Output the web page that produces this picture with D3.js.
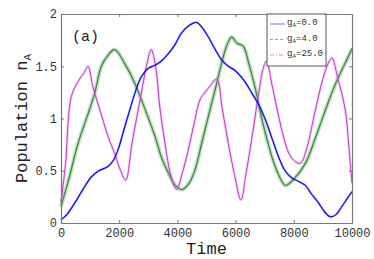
<!DOCTYPE html>
<html>
<head>
<meta charset="utf-8">
<script src="https://cdn.jsdelivr.net/npm/d3@7"></script>
<style>
  body { margin: 0; background: #fff; }
  svg text { font-family: "Liberation Mono", "DejaVu Sans Mono", monospace; }
</style>
</head>
<body>
<svg id="svg" width="374" height="259"></svg>
<script>
// g_A = 0.0
var serieBleue = [[0,0.03],[200,0.08],[470,0.19],[750,0.32],[1042,0.44],[1300,0.50],[1615,0.54],[1800,0.60],[1959,0.70],[2150,0.88],[2360,1.08],[2560,1.26],[2760,1.40],[3000,1.48],[3230,1.51],[3450,1.55],[3688,1.62],[3900,1.70],[4146,1.82],[4400,1.89],[4662,1.92],[4850,1.87],[5063,1.78],[5300,1.66],[5521,1.56],[5750,1.50],[5979,1.46],[6300,1.36],[6564,1.24],[6800,1.13],[7021,0.99],[7250,0.81],[7481,0.63],[7700,0.50],[7938,0.43],[8150,0.40],[8397,0.36],[8600,0.28],[8855,0.19],[9050,0.11],[9255,0.06],[9450,0.08],[9656,0.16],[9850,0.24],[10000,0.30]];
// g_A = 4.0
var serieVerte = [[0,0.16],[250,0.40],[584,0.76],[900,1.02],[1157,1.24],[1386,1.50],[1600,1.60],[1844,1.66],[2200,1.52],[2530,1.34],[2900,1.08],[3230,0.83],[3450,0.63],[3688,0.48],[3900,0.37],[4146,0.32],[4400,0.38],[4605,0.51],[4850,0.78],[5063,1.02],[5300,1.28],[5521,1.53],[5700,1.70],[5865,1.78],[6050,1.72],[6266,1.69],[6450,1.53],[6667,1.30],[6907,0.99],[7100,0.78],[7251,0.63],[7480,0.46],[7709,0.36],[8000,0.42],[8397,0.57],[8750,0.82],[9085,1.08],[9300,1.24],[9542,1.40],[9800,1.55],[10000,1.67]];
// g_A = 25.0
var serieMagenta = [[0,0.20],[150,0.55],[355,1.21],[600,1.36],[800,1.44],[928,1.50],[1100,1.30],[1350,1.07],[1615,0.83],[1850,0.66],[2050,0.50],[2222,0.41],[2450,0.78],[2760,1.24],[2950,1.52],[3100,1.66],[3250,1.50],[3400,1.10],[3574,0.76],[3780,0.45],[3975,0.32],[4150,0.46],[4375,0.70],[4550,0.92],[4777,1.18],[4950,1.25],[5150,1.32],[5350,1.38],[5550,1.08],[5750,0.76],[5950,0.48],[6186,0.22],[6350,0.46],[6553,0.80],[6793,1.24],[6950,1.48],[7060,1.55],[7250,1.32],[7481,1.02],[7650,0.82],[7825,0.67],[8000,0.60],[8225,0.57],[8450,0.72],[8740,1.08],[9000,1.38],[9200,1.54],[9313,1.58],[9500,1.40],[9770,1.08],[9900,0.70],[10000,0.38]];

var ticksX = [0,2000,4000,6000,8000,10000];
var ticksY = [0,0.5,1,1.5,2];
var legende = ["0.0","4.0","25.0"];

var svg = d3.select("#svg");
var gauche = 61, droite = 352, haut = 14, bas = 223;

var scaleX = d3.scaleLinear().domain([0,10000]).range([gauche,droite]);
var scaleY = d3.scaleLinear().domain([0,2]).range([bas,haut]);

// Courbes
var ligne = d3.line()
	.x(function(d){ return scaleX(d[0]); })
	.y(function(d){ return scaleY(d[1]); })
	.curve(d3.curveCatmullRom.alpha(0.5));

var gCourbes = svg.append("g");
function courbe(data, bande, largeurBande, opac, coeur, largeurCoeur){
	gCourbes.append("path").datum(data).attr("d", ligne)
		.attr("fill","none").attr("stroke",bande).attr("stroke-opacity",opac).attr("stroke-width",largeurBande);
	gCourbes.append("path").datum(data).attr("d", ligne)
		.attr("fill","none").attr("stroke",coeur).attr("stroke-width",largeurCoeur);
}
courbe(serieVerte, "#5aa55a", 4.2, 0.35, "#3b8a3b", 1.3);
courbe(serieMagenta, "#dd70dd", 2.6, 0.35, "#c838c8", 1);
courbe(serieBleue, "#4040ff", 2.4, 0.3, "#0808f0", 1.2);

// Axes (cadre, ticks vers l'intérieur)
var fmt = d3.format("d");
svg.append("g").attr("transform","translate(0,"+bas+")")
	.call(d3.axisBottom(scaleX).tickValues(ticksX).tickSizeInner(-3).tickSizeOuter(0).tickPadding(5).tickFormat(fmt));
svg.append("g").attr("transform","translate(0,"+haut+")")
	.call(d3.axisTop(scaleX).tickValues(ticksX).tickSizeInner(-3).tickSizeOuter(0).tickFormat(""));
svg.append("g").attr("transform","translate("+gauche+",0)")
	.call(d3.axisLeft(scaleY).tickValues(ticksY).tickSizeInner(-3).tickSizeOuter(0).tickPadding(4).tickFormat(function(d){ return String(d); }));
svg.append("g").attr("transform","translate("+droite+",0)")
	.call(d3.axisRight(scaleY).tickValues(ticksY).tickSizeInner(-3).tickSizeOuter(0).tickFormat(""));

svg.selectAll(".domain").attr("stroke","#777").attr("stroke-width",1.2);
svg.selectAll(".tick line").attr("stroke","#777");
svg.selectAll(".tick text").attr("fill","#333").attr("font-family",null).style("font-size","12px");

// Label axe X
svg.append("text").attr("x",(gauche+droite)/2).attr("y",254).attr("text-anchor","middle")
	.style("font-size","17px").attr("fill","#222").text("Time");

// Label axe Y
var labelY = svg.append("text").attr("transform","translate(27,"+((haut+bas)/2)+") rotate(-90)")
	.attr("text-anchor","middle").style("font-size","17px").attr("fill","#222");
labelY.append("tspan").text("Population n");
labelY.append("tspan").attr("dy",4).style("font-size","11px").text("A");

// (a)
svg.append("text").attr("x",72).attr("y",41).style("font-size","15px").attr("fill","#222").text("(a)");

// Légende
var gLeg = svg.append("g");
gLeg.append("rect").attr("x",267).attr("y",haut).attr("width",59).attr("height",52)
	.attr("fill","#fff").attr("stroke","#555").attr("stroke-width",1);
var couleursLeg = ["#7070ff","#70c070","#e880e8"];
var tirets = ["none","3,2","4,2,1,2"];
legende.forEach(function(v,i){
	var y = 24 + i*15.5;
	gLeg.append("line").attr("x1",270).attr("x2",285).attr("y1",y).attr("y2",y)
		.attr("stroke",couleursLeg[i]).attr("stroke-width",1).attr("stroke-dasharray",tirets[i]);
	var t = gLeg.append("text").attr("x",287).attr("y",y+1).style("font-size","9px").attr("fill","#333");
	t.append("tspan").text("g");
	t.append("tspan").attr("dy",2).style("font-size","6px").text("A");
	t.append("tspan").attr("dy",-2).text("="+v);
});
</script>
</body>
</html>
